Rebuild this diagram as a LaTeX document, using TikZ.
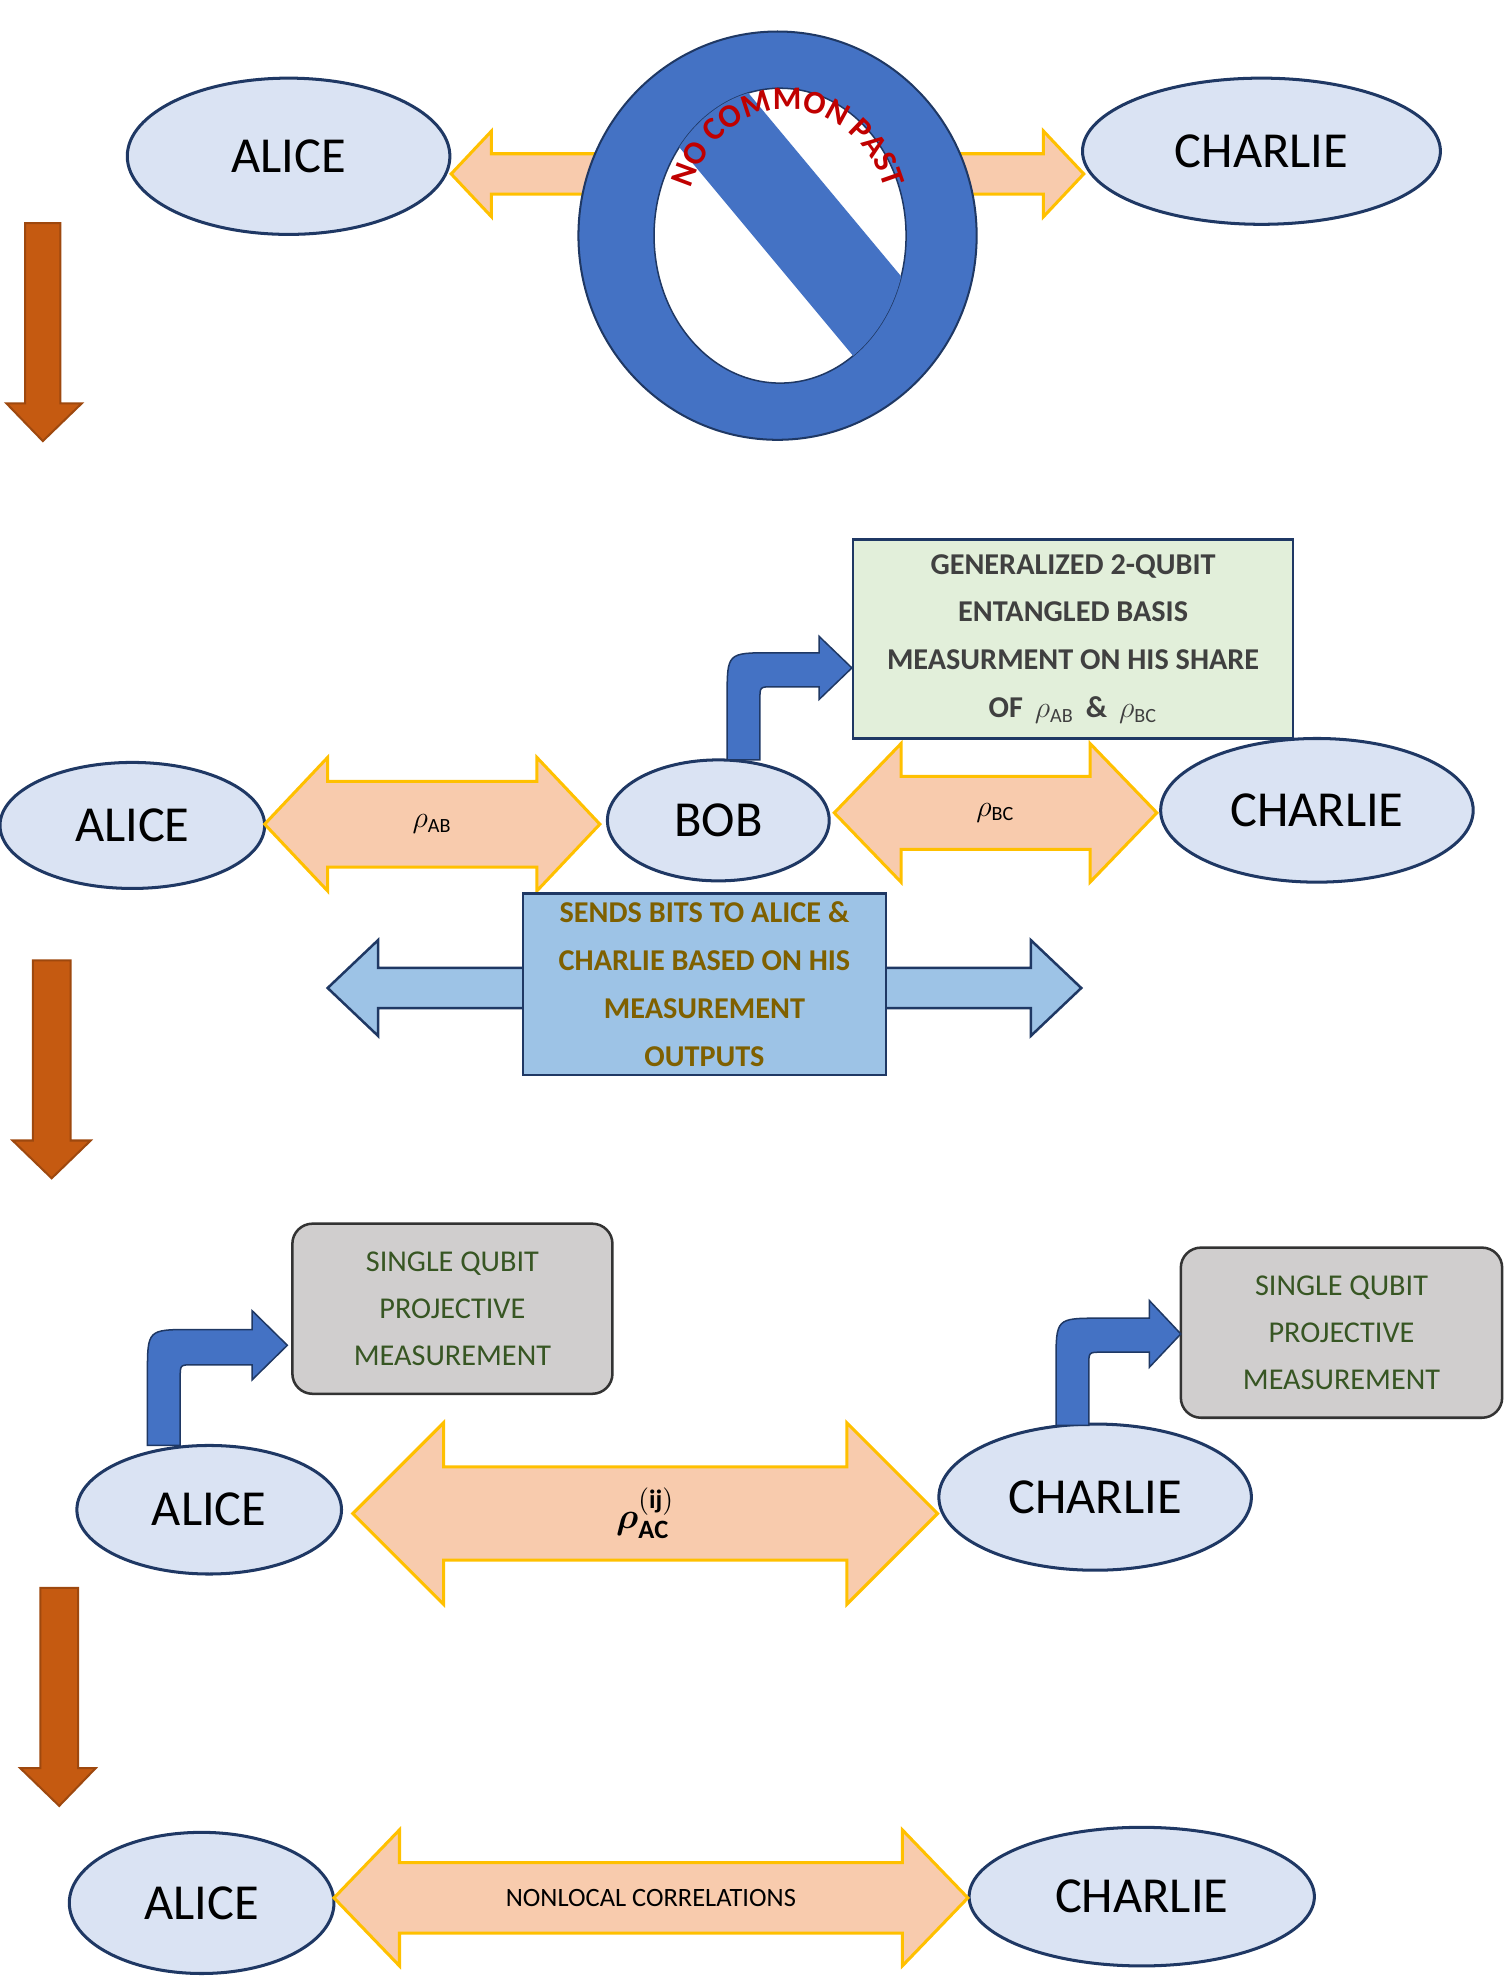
\documentclass[tikz,border=0pt]{standalone}
\usepackage{amsmath,bm}
\usepackage{fontspec}
\setmainfont{Carlito}
\usetikzlibrary{shapes.geometric,decorations.text}
\definecolor{ellf}{HTML}{DAE3F3}
\definecolor{navy}{HTML}{1F3864}
\definecolor{orf}{HTML}{F8CBAD}
\definecolor{ord}{HTML}{FFC000}
\definecolor{brn}{HTML}{C55A11}
\definecolor{blu}{HTML}{4472C4}
\definecolor{grn}{HTML}{E2EFDA}
\definecolor{gry}{HTML}{D0CECE}
\definecolor{lbl}{HTML}{9DC3E6}
\definecolor{txb}{HTML}{7F6000}
\definecolor{txg}{HTML}{375623}
\definecolor{darkred}{HTML}{C00000}
\newcommand\dblarr[8]{% x1 x2 yc shafthalf headhalf headlen style name
 \draw[#7] (#1,#3) -- ({#1+#6},{#3-#5}) -- ({#1+#6},{#3-#4}) -- ({#2-#6},{#3-#4}) -- ({#2-#6},{#3-#5}) -- (#2,#3) -- ({#2-#6},{#3+#5}) -- ({#2-#6},{#3+#4}) -- ({#1+#6},{#3+#4}) -- ({#1+#6},{#3+#5}) -- cycle;
 \coordinate (#8) at ({(#1+#2)/2},#3);}
\newcommand\downarr[6]{% xl xr ytop ybase hl hr
 \draw[brn!80!black, fill=brn, line width=0.8pt] (#1,#3) -- (#2,#3) -- (#2,#4) -- (#6,#4) -- ({(#1+#2)/2},{#4+30}) -- (#5,#4) -- (#1,#4) -- cycle;}
\newcommand\bentarr[9]{% xl xr ybot yt yb xh htop hbot tip
 \draw[navy, fill=blu, line width=0.6pt] (#1,#3) -- (#1,{#4+35}) .. controls (#1,#4) .. ({#1+35},#4) -- (#6,#4) -- (#6,#7) -- (#9,{(#7+#8)/2}) -- (#6,#8) -- (#6,#5) -- ({#2+10},#5) .. controls (#2,#5) .. (#2,{#5+10}) -- (#2,#3) -- cycle;}
\tikzset{
 ell/.style={ellipse, draw=navy, fill=ellf, line width=1.2pt, inner sep=0pt, font=\fontsize{20}{24}\selectfont},
 oarr/.style={draw=ord, fill=orf, line width=1.2pt},
 boxt/.style={font=\bfseries\fontsize{12}{19}\selectfont, align=center},
}
\begin{document}
\begin{tikzpicture}[x=0.5pt,y=-0.5pt]
\useasboundingbox (0,0) rectangle (1193,1568);
% Row 1
\node[ell, minimum width=128pt, minimum height=62pt] (a1) at (229,124) {ALICE};
\node[ell, minimum width=142pt, minimum height=58pt] (c1) at (1001,120) {CHARLIE};
\dblarr{358}{860}{138}{16}{34}{32}{oarr}{ac1}
% no sign
\fill[blu, draw=navy, line width=0.8pt] (617,187) ellipse [x radius=158, y radius=162];
\fill[white, draw=navy, line width=0.6pt] (619,187) ellipse [x radius=100, y radius=117];
\begin{scope}
\clip (619,187) ellipse [x radius=100, y radius=117];
\fill[blu] (520,94) -- (574,50) -- (744,254) -- (690,298) -- cycle;
\end{scope}
\path[decorate, decoration={text along path, text align=center, text={|\bfseries\fontsize{13}{13}\selectfont\color{darkred}|NO COMMON PAST}}]
 (545,175) arc[start angle=180, end angle=360, x radius=80, y radius=88];
% down arrows
\downarr{20}{48}{177}{320}{5}{65}
\downarr{26}{56}{762}{905}{10}{72}
\downarr{32}{62}{1260}{1403}{16}{76}
% Row 2
\node[ell, minimum width=105pt, minimum height=50pt] (a2) at (105,655) {ALICE};
\node[ell, minimum width=88pt, minimum height=48pt] (b2) at (570,651) {BOB};
\node[ell, minimum width=124pt, minimum height=57pt] (c2) at (1045,643) {CHARLIE};
\dblarr{210}{476}{654}{34}{53}{50}{oarr}{ab}
\node[font=\fontsize{12}{12}\selectfont] at (ab) {$\rho_{\mathrm{AB}}$};
\dblarr{662}{918}{645}{29}{55}{53}{oarr}{bc}
\node[font=\fontsize{12}{12}\selectfont] at (bc) {$\rho_{\mathrm{BC}}$};
\node[draw=navy, fill=grn, line width=1pt, minimum width=174.5pt, minimum height=79pt, boxt, text=black!75] (gb) at (851.5,507) {GENERALIZED 2-QUBIT\\ENTANGLED BASIS\\MEASURMENT ON HIS SHARE\\OF\, $\rho_{\mathrm{AB}}$\, \&\, $\rho_{\mathrm{BC}}$};
\bentarr{577}{603}{603}{518}{545}{650}{505}{555}{676}
\dblarr{260}{858}{784}{16}{38}{40}{draw=navy, fill=lbl, line width=1pt}{bits}
\node[draw=navy, fill=lbl, line width=1pt, minimum width=144pt, minimum height=72pt, boxt, text=txb] (sb) at (559,781) {SENDS BITS TO ALICE \&\\CHARLIE BASED ON HIS\\MEASUREMENT\\OUTPUTS};
% Row 3
\node[draw=black!80, fill=gry, rounded corners=8pt, line width=1pt, minimum width=127pt, minimum height=67.5pt, font=\fontsize{12}{18.5}\selectfont, align=center, text=txg] (g1) at (359,1038.5) {SINGLE QUBIT\\PROJECTIVE\\MEASUREMENT};
\node[draw=black!80, fill=gry, rounded corners=8pt, line width=1pt, minimum width=127.5pt, minimum height=67.5pt, font=\fontsize{12}{18.5}\selectfont, align=center, text=txg] (g2) at (1064.5,1057.5) {SINGLE QUBIT\\PROJECTIVE\\MEASUREMENT};
\node[ell, minimum width=105pt, minimum height=51pt] (a3) at (166,1198) {ALICE};
\node[ell, minimum width=124pt, minimum height=58pt] (c3) at (869,1188) {CHARLIE};
\bentarr{117}{143}{1147}{1055}{1083}{200}{1040}{1095}{228}
\bentarr{838}{864}{1131}{1046}{1073}{912}{1032}{1085}{937}
\dblarr{280}{744}{1201}{37}{72}{72}{oarr}{ac3}
\node[font=\fontsize{15}{15}\selectfont] at (ac3) {$\bm{\rho}_{\mathbf{AC}}^{\mathbf{(ij)}}$};
% Row 4
\node[ell, minimum width=105pt, minimum height=56pt] (a4) at (160,1510) {ALICE};
\node[ell, minimum width=137pt, minimum height=55pt] (c4) at (906,1505) {CHARLIE};
\dblarr{265}{768}{1506}{28}{54}{52}{oarr}{ac4}
\node[font=\fontsize{10.5}{12}\selectfont] at (ac4) {NONLOCAL CORRELATIONS};
\end{tikzpicture}
\end{document}
